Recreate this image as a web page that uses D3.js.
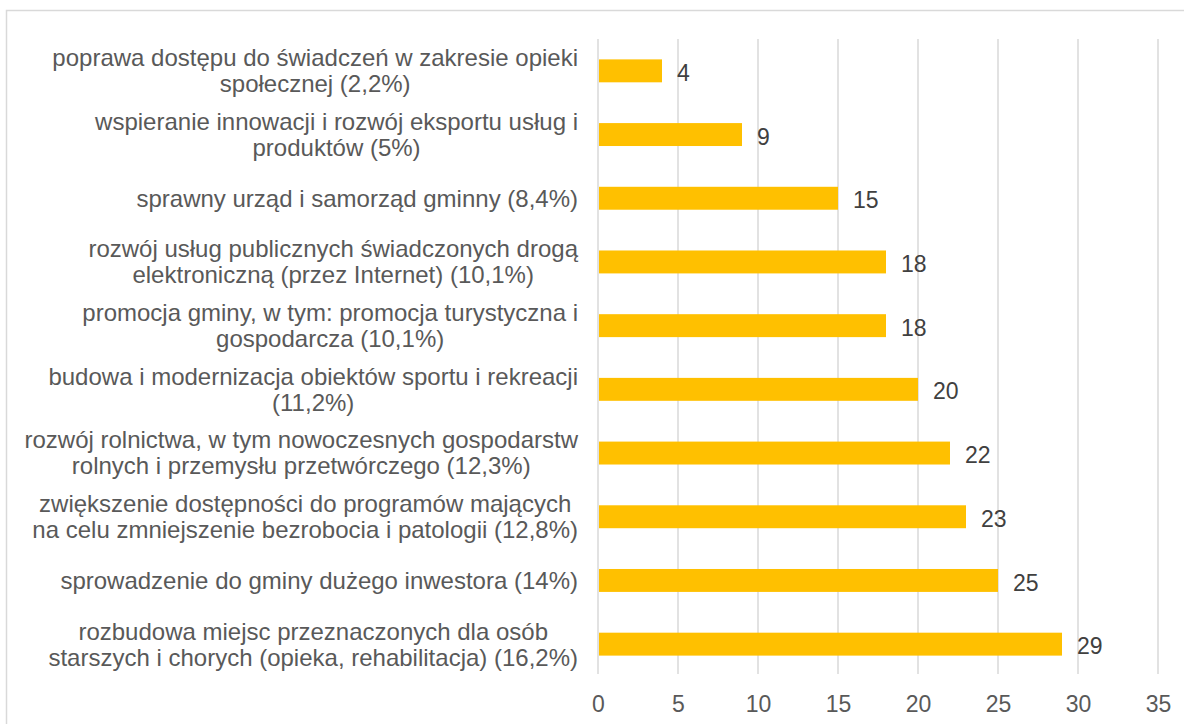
<!DOCTYPE html>
<html>
<head>
<meta charset="utf-8">
<script src="https://cdn.jsdelivr.net/npm/d3@7"></script>
<style>
  body { margin: 0; background: #fff; }
  text { font-family: "Liberation Sans", Arial, sans-serif; }
</style>
</head>
<body>
<script>
// categories (top to bottom), each split into the lines shown on the chart
var categories = [
  ["poprawa dostępu do świadczeń w zakresie opieki", "społecznej (2,2%)"],
  ["wspieranie innowacji i rozwój eksportu usług i", "produktów (5%)"],
  ["sprawny urząd i samorząd gminny (8,4%)"],
  ["rozwój usług publicznych świadczonych drogą", "elektroniczną (przez Internet) (10,1%)"],
  ["promocja gminy, w tym: promocja turystyczna i", "gospodarcza (10,1%)"],
  ["budowa i modernizacja obiektów sportu i rekreacji", "(11,2%)"],
  ["rozwój rolnictwa, w tym nowoczesnych gospodarstw", "rolnych i przemysłu przetwórczego (12,3%)"],
  ["zwiększenie dostępności do programów mających", "na celu zmniejszenie bezrobocia i patologii (12,8%)"],
  ["sprowadzenie do gminy dużego inwestora (14%)"],
  ["rozbudowa miejsc przeznaczonych dla osób", "starszych i chorych (opieka, rehabilitacja) (16,2%)"]
];
var values = [4, 9, 15, 18, 18, 20, 22, 23, 25, 29];
var xTicks = [0, 5, 10, 15, 20, 25, 30, 35];

var svgWidth = 1184;
var svgHeight = 724;

var svg = d3.select("body")
  .append("svg")
  .attr("width", svgWidth)
  .attr("height", svgHeight);

// chart area border (runs off the right and bottom edge)
svg.append("rect")
  .attr("x", 6.5)
  .attr("y", 10.5)
  .attr("width", 1200)
  .attr("height", 740)
  .attr("fill", "none")
  .attr("stroke", "#d9d9d9")
  .attr("stroke-width", 1.5);

var plot = { left: 598, right: 1158, top: 39, bottom: 676 };

var x = d3.scaleLinear()
  .domain([0, 35])
  .range([plot.left, plot.right]);

var y = d3.scaleBand()
  .domain(d3.range(categories.length))
  .range([plot.top, plot.bottom])
  .paddingInner(0.64)
  .paddingOuter(0.32);

// gridlines
svg.append("g")
  .selectAll("line")
  .data(xTicks)
  .enter()
  .append("line")
  .attr("x1", d => x(d))
  .attr("x2", d => x(d))
  .attr("y1", plot.top)
  .attr("y2", plot.bottom - 2)
  .attr("stroke", "#d9d9d9")
  .attr("stroke-width", 1.5);

// x axis tick labels
var bottomAxis = d3.axisBottom(x).tickValues(xTicks).tickSize(0).tickPadding(0);
var axisG = svg.append("g")
  .attr("transform", `translate(0, 704)`)
  .call(bottomAxis);
axisG.select(".domain").remove();
axisG.selectAll("text")
  .attr("fill", "#595959")
  .style("font-size", "23px")
  .attr("y", 0)
  .attr("dy", "0.35em");

// bars
svg.append("g")
  .selectAll("rect")
  .data(values)
  .enter()
  .append("rect")
  .attr("x", x(0) + 1)
  .attr("y", (d, i) => y(i))
  .attr("width", d => x(d) - x(0) - 1)
  .attr("height", y.bandwidth())
  .attr("fill", "#ffc000");

// value labels
svg.append("g")
  .selectAll("text")
  .data(values)
  .enter()
  .append("text")
  .attr("x", d => x(d) + 15)
  .attr("y", (d, i) => y(i) + y.bandwidth() / 2 + 2)
  .attr("dy", "0.35em")
  .attr("fill", "#404040")
  .style("font-size", "23px")
  .text(d => d);

// category labels: lines centred on each other, block right-aligned
var labelRight = 578;
var lineH = 26;
categories.forEach(function(lines, i) {
  var g = svg.append("g");
  var cy = y(i) + y.bandwidth() / 2;
  var texts = lines.map(function(line, k) {
    return g.append("text")
      .attr("y", cy + (k - (lines.length - 1) / 2) * lineH)
      .attr("dy", "0.35em")
      .attr("fill", "#595959")
      .style("font-size", "24px")
      .attr("text-anchor", "middle")
      .text(line);
  });
  var maxW = d3.max(texts, t => t.node().getComputedTextLength());
  texts.forEach(t => t.attr("x", labelRight - maxW / 2));
});
</script>
</body>
</html>
